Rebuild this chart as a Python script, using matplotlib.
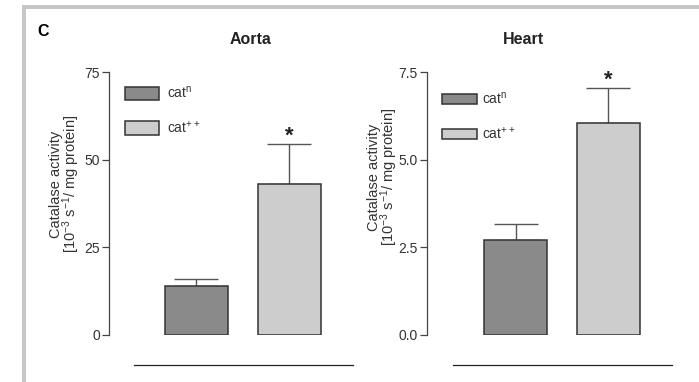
import matplotlib
matplotlib.use("Agg")
import matplotlib.pyplot as plt
from matplotlib.patches import Rectangle
from matplotlib.lines import Line2D

plt.rcParams['font.family'] = ['Liberation Sans', 'DejaVu Sans']
plt.rcParams['mathtext.default'] = 'regular'

# Catalase activity per tissue: normal (cat^n) vs overexpressing (cat^++)
groups = ["cat$^{n}$", "cat$^{++}$"]
aorta_mean = [14.0, 43.2]
aorta_sem = [1.9, 11.4]
heart_mean = [2.71, 6.04]
heart_sem = [0.46, 1.0]
aorta_ticks = [0, 25, 50, 75]
aorta_ticklabels = ["0", "25", "50", "75"]
heart_ticks = [0.0, 2.5, 5.0, 7.5]
heart_ticklabels = ["0.0", "2.5", "5.0", "7.5"]
significant = [False, True]

colors = ["#8a8a8a", "#cdcdcd"]
edge = "#333333"

W, H = 699, 382
fig = plt.figure(figsize=(W / 100, H / 100), dpi=100)


def fx(x):
    return x / W


def fy(y):
    return 1 - y / H


# light grey frame along the top and left edges
fig.add_artist(Rectangle((fx(22), fy(382)), 4 / W, 377 / H, transform=fig.transFigure,
                         color="#c6c6c6", lw=0))
fig.add_artist(Rectangle((fx(22), fy(9)), (W - 22) / W, 4 / H, transform=fig.transFigure,
                         color="#c6c6c6", lw=0))

fig.text(fx(43), fy(32), "C", fontsize=11.5, fontweight="bold", ha="center", va="center")

ylabel = "Catalase activity\n[10$^{-3}$ s$^{-1}$/ mg protein]"


def panel(left, right, center0, mean, sem, ticks, ticklabels, ymax, title, title_x,
          label_y, leg_anchor, handlelength, handleheight, labelspacing, textpad,
          line_x0, line_x1):
    top, bottom = 72, 335
    ax = fig.add_axes([fx(left), fy(bottom), (right - left) / W, (bottom - top) / H])
    unit = 92.8
    ax.set_xlim(-(center0 - left) / unit, (right - center0) / unit)
    ax.set_ylim(0, ymax)
    xs = [0, 1]
    bars = ax.bar(xs, mean, width=0.68, color=colors, edgecolor=edge, linewidth=1.1,
                  zorder=3)
    for b, lab in zip(bars, groups):
        b.set_label(lab)
    ax.errorbar(xs, mean, yerr=[[0, 0], sem], fmt="none", ecolor="#555555",
                elinewidth=1.0, capsize=15.5, capthick=1.0, zorder=2)
    for x, m, s, sig in zip(xs, mean, sem, significant):
        if sig:
            ax.annotate("*", (x, m + s), xytext=(0, -2), textcoords="offset points",
                        ha="center", va="bottom", fontsize=16, fontweight="bold",
                        color="#222222")
    for sp in ["top", "right", "bottom"]:
        ax.spines[sp].set_visible(False)
    ax.spines["left"].set_color("#444444")
    ax.spines["left"].set_linewidth(0.9)
    ax.set_xticks([])
    ax.set_yticks(ticks)
    ax.set_yticklabels(ticklabels)
    ax.tick_params(axis="y", length=5, width=0.9, color="#444444", labelsize=10,
                   labelcolor="#333333", pad=1.5)
    ax.set_ylabel(ylabel, fontsize=10.5, color="#333333", linespacing=0.85)
    ax.yaxis.set_label_coords(-27 / (right - left), (bottom - label_y) / (bottom - top))
    fig.text(fx(title_x), fy(40), title, fontsize=11.5, fontweight="bold",
             ha="center", va="center", color="#222222")
    ax.legend(loc="upper left", bbox_to_anchor=leg_anchor, frameon=False, fontsize=10,
              handlelength=handlelength, handleheight=handleheight,
              labelspacing=labelspacing, handletextpad=textpad, borderpad=0,
              borderaxespad=0, labelcolor="#333333")
    fig.add_artist(Line2D([fx(line_x0), fx(line_x1)], [fy(365), fy(365)],
                          transform=fig.transFigure, color="#222222", lw=0.9))
    return ax


panel(109, 353, 196.5, aorta_mean, aorta_sem, aorta_ticks, aorta_ticklabels, 75,
      "Aorta", 251, 184, ((125 - 109) / 244, (335 - 85) / 263), 2.45, 1.08, 1.35, 0.6,
      134, 353)
panel(427, 672, 515.5, heart_mean, heart_sem, heart_ticks, heart_ticklabels, 7.5,
      "Heart", 523, 177, ((442 - 427) / 245, (335 - 91) / 263), 2.5, 0.65, 1.35, 0.35,
      453, 672)

fig.savefig("out.png", dpi=100)
